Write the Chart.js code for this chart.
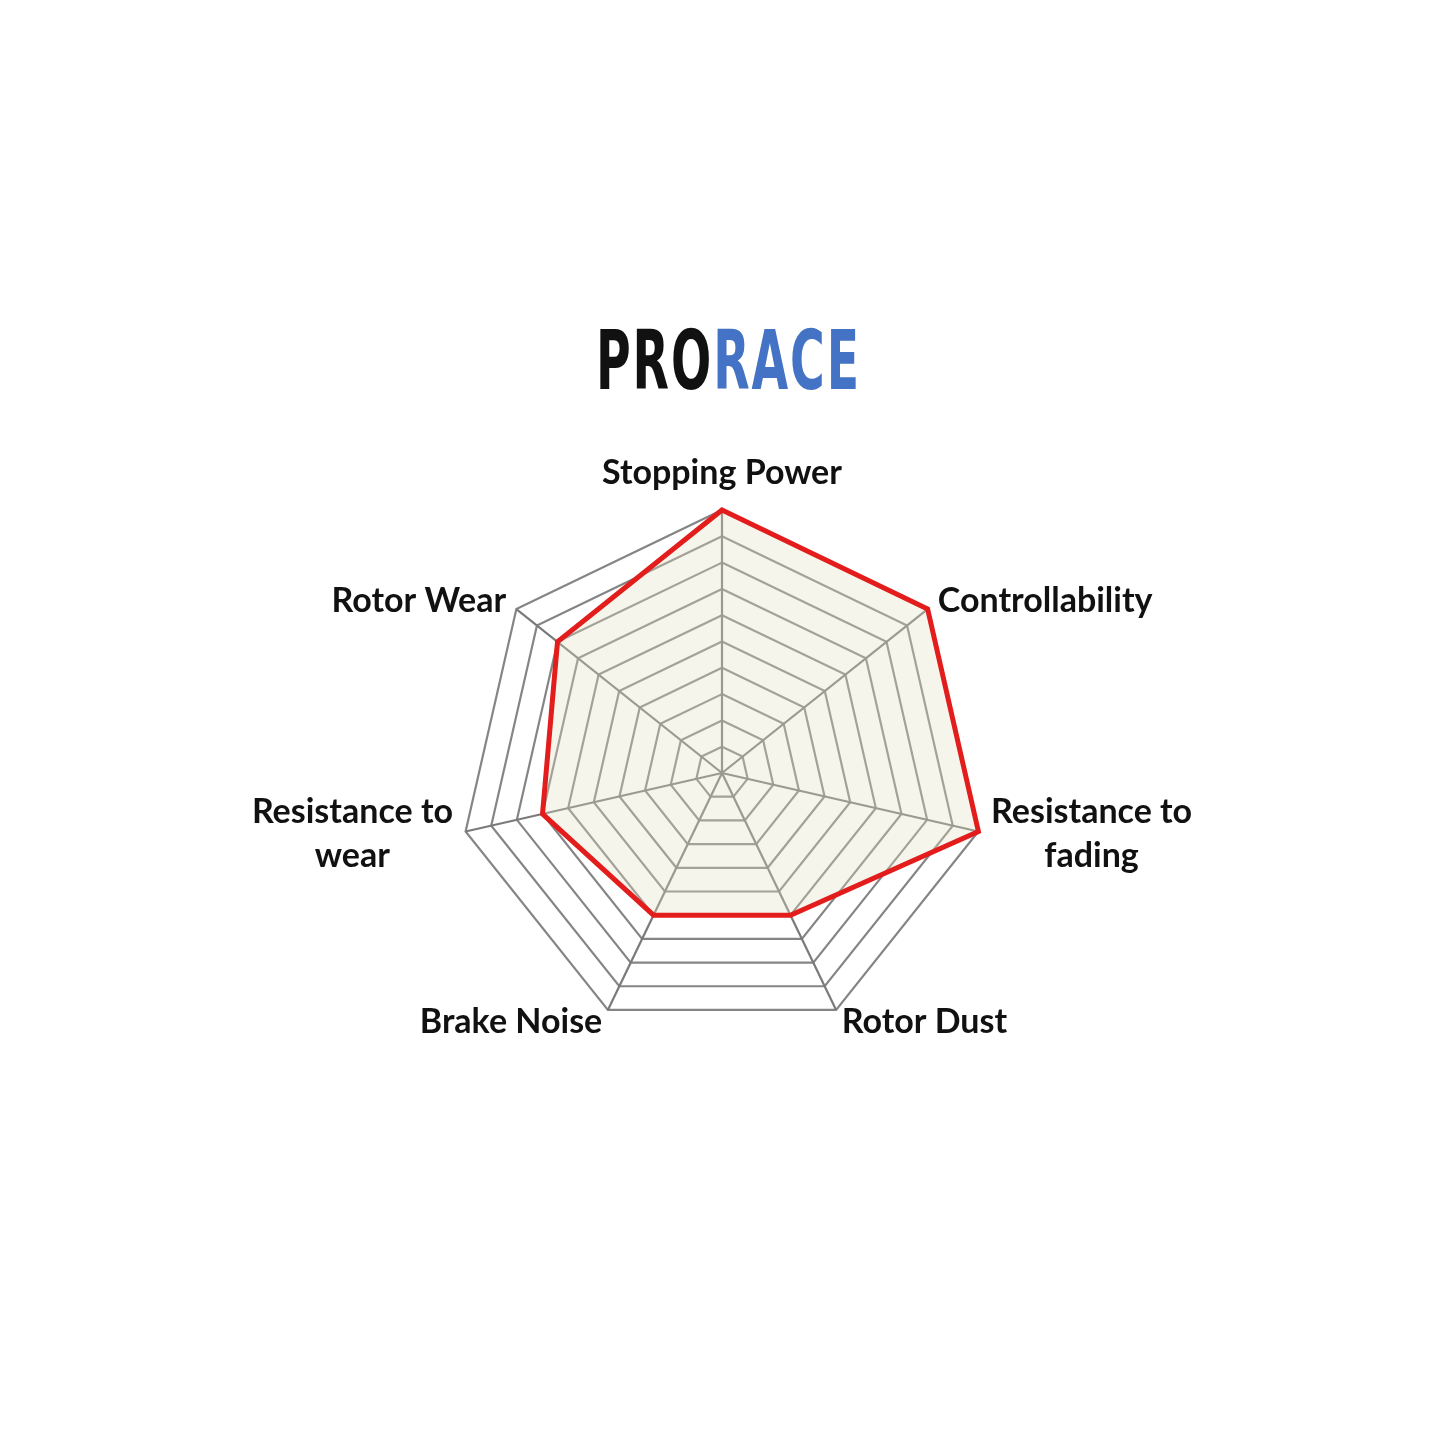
<!DOCTYPE html>
<html><head><meta charset="utf-8">
<script src="https://cdn.jsdelivr.net/npm/chart.js@4.4.1/dist/chart.umd.min.js"></script>
<style>
html,body{margin:0;padding:0;background:#fff;}
#wrap{position:relative;width:1445px;height:1445px;background:#fff;}
#title{position:absolute;left:6px;top:320px;width:1445px;text-align:center;z-index:2;
  font-family:'Liberation Sans Narrow','DejaVu Sans Condensed',sans-serif;font-weight:bold;font-size:82px;line-height:1;white-space:nowrap;}
#title .in{display:inline-block;letter-spacing:3px;transform-origin:50% 50%;}
#t1{color:#111;}
#t2{color:#4472c4;}
canvas{position:absolute;left:0;top:0;}
</style></head>
<body><div id="wrap"><div id="title"><span class="in" id="tin"><span id="t1">PRO</span><span id="t2">RACE</span></span></div><canvas id="c" width="1445" height="1445"></canvas></div>
<script>
const categories = ['Stopping Power', 'Controllability', ['Resistance to', 'fading'], 'Rotor Dust', 'Brake Noise', ['Resistance to', 'wear'], 'Rotor Wear'];
const ratings = [10, 10, 10, 6, 6, 7, 8];
const scaleMin = 0;
const scaleMax = 10;
const scaleStep = 1;

// fit the condensed title width
const tin = document.getElementById('tin');
const tw = tin.getBoundingClientRect().width;
tin.style.transform = 'scaleX(' + (265 / tw) + ')';

const LABEL_PAD = 13;
const LINE_H = 44;
const labelPlugin = {
  id: 'axisLabels',
  afterDraw(chart) {
    const scale = chart.scales.r;
    const ctx = chart.ctx;
    ctx.save();
    ctx.font = 'bold 34px Lato';
    ctx.fillStyle = '#111';
    ctx.textBaseline = 'middle';
    ctx.textAlign = 'center';
    chart.data.labels.forEach((lab, i) => {
      const lines = Array.isArray(lab) ? lab : [lab];
      const p = scale.getPointPosition(i, scale.drawingArea + LABEL_PAD);
      const deg = Math.round(scale.getIndexAngle(i) * 180 / Math.PI) % 360;
      const w = Math.max(...lines.map(l => ctx.measureText(l).width));
      const h = lines.length * LINE_H;
      let cx, cy;
      if (deg === 0) { cx = p.x; cy = p.y - h / 2 - 2; }
      else if (deg === 180) { cx = p.x; cy = p.y + h / 2; }
      else if (deg < 180) { cx = p.x + w / 2; cy = p.y; }
      else { cx = p.x - w / 2; cy = p.y; }
      lines.forEach((l, k) => {
        ctx.fillText(l, cx, cy - (lines.length - 1) * LINE_H / 2 + k * LINE_H);
      });
    });
    ctx.restore();
  }
};

new Chart(document.getElementById('c'), {
  type: 'radar',
  data: {
    labels: categories,
    datasets: [{
      data: ratings,
      borderColor: '#e31c1c',
      borderWidth: 5,
      backgroundColor: 'rgba(225,225,195,0.32)',
      fill: true,
      pointRadius: 0,
      pointHoverRadius: 0,
      tension: 0,
      borderJoinStyle: 'miter'
    }]
  },
  options: {
    responsive: false,
    animation: false,
    devicePixelRatio: 1,
    layout: { padding: { left: 459, right: 460, top: 510, bottom: 409 } },
    plugins: { legend: { display: false }, tooltip: { enabled: false } },
    scales: {
      r: {
        min: scaleMin,
        max: scaleMax,
        ticks: { stepSize: scaleStep, display: false },
        pointLabels: { display: false },
        grid: { color: '#858585', lineWidth: 2.2, circular: false },
        angleLines: { color: '#7a7a7a', lineWidth: 2.2 }
      }
    }
  },
  plugins: [labelPlugin]
});
</script>
</body></html>
